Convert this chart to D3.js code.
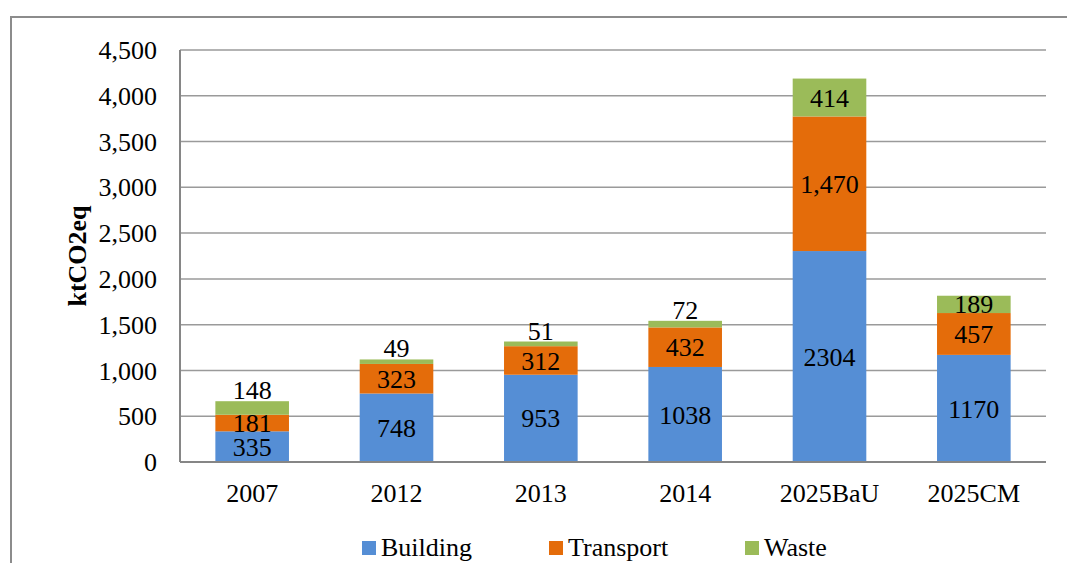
<!DOCTYPE html>
<html>
<head>
<meta charset="utf-8">
<script src="https://cdn.jsdelivr.net/npm/d3@7"></script>
<style>
  body { margin: 0; background: #fff; }
  text { font-family: "Liberation Serif", "Times New Roman", serif; fill: #000; }
</style>
</head>
<body>
<div id="chart"></div>
<script>
// data
const years = ["2007", "2012", "2013", "2014", "2025BaU", "2025CM"];
const building = [335, 748, 953, 1038, 2304, 1170];
const transport = [181, 323, 312, 432, 1470, 457];
const waste = [148, 49, 51, 72, 414, 189];
const seriesNames = ["Building", "Transport", "Waste"];
const colors = ["#558ed5", "#e46c0a", "#9bbb59"];
const yTicks = [0, 500, 1000, 1500, 2000, 2500, 3000, 3500, 4000, 4500];

const W = 1067, H = 563;
const margin = { top: 50, right: 21, bottom: 101, left: 180 };
const width = W - margin.left - margin.right;
const height = H - margin.top - margin.bottom;

const svg = d3.select("#chart").append("svg")
  .attr("width", W)
  .attr("height", H);

// outer frame (continues past right and bottom edge)
svg.append("path")
  .attr("d", "M11," + H + " V17 H" + W)
  .attr("fill", "none")
  .attr("stroke", "#8c8c8c")
  .attr("stroke-width", 2);

const g = svg.append("g")
  .attr("transform", `translate(${margin.left},${margin.top})`);

const xScale = d3.scaleBand()
  .domain(years)
  .range([0, width])
  .paddingInner(0.49)
  .paddingOuter(0.245);

const yScale = d3.scaleLinear()
  .domain([0, 4500])
  .range([height, 0]);

// gridlines
g.selectAll(".grid")
  .data(yTicks.slice(1))
  .enter().append("line")
  .attr("x1", 0)
  .attr("x2", width)
  .attr("y1", d => yScale(d))
  .attr("y2", d => yScale(d))
  .attr("stroke", "#9a9a9a")
  .attr("stroke-width", 1.5);

// y tick labels
g.selectAll(".ytick")
  .data(yTicks)
  .enter().append("text")
  .attr("x", -23)
  .attr("y", d => yScale(d))
  .attr("dy", "0.35em")
  .style("text-anchor", "end")
  .style("font-size", "26px")
  .text(d => d3.format(",")(d));

// stacked data
const rows = years.map((y, i) => ({ year: y, Building: building[i], Transport: transport[i], Waste: waste[i] }));
const stack = d3.stack().keys(seriesNames)(rows);

const layers = g.selectAll(".layer")
  .data(stack)
  .enter().append("g")
  .attr("fill", (d, i) => colors[i]);

layers.selectAll("rect")
  .data(d => d)
  .enter().append("rect")
  .attr("x", d => xScale(d.data.year))
  .attr("y", d => yScale(d[1]))
  .attr("width", xScale.bandwidth())
  .attr("height", d => yScale(d[0]) - yScale(d[1]));

// axes lines
g.append("line")
  .attr("x1", 0).attr("x2", 0)
  .attr("y1", 0).attr("y2", height)
  .attr("stroke", "#868686").attr("stroke-width", 2);
g.append("line")
  .attr("x1", 0).attr("x2", width)
  .attr("y1", height).attr("y2", height)
  .attr("stroke", "#868686").attr("stroke-width", 2);

// data labels
stack.forEach((layer, si) => {
  const fmt = si === 0 ? d3.format("d") : d3.format(",");
  layer.forEach(d => {
    const top = yScale(d[1]), bot = yScale(d[0]);
    const v = d[1] - d[0];
    const small = (bot - top) < 15;
    g.append("text")
      .attr("x", xScale(d.data.year) + xScale.bandwidth() / 2)
      .attr("y", small ? top - 2 : (top + bot) / 2)
      .attr("dy", small ? 0 : "0.35em")
      .style("text-anchor", "middle")
      .style("font-size", "26px")
      .text(fmt(v));
  });
});

// x labels
g.selectAll(".xlab")
  .data(years)
  .enter().append("text")
  .attr("x", d => xScale(d) + xScale.bandwidth() / 2)
  .attr("y", height + 40)
  .style("text-anchor", "middle")
  .style("font-size", "26px")
  .text(d => d);

// y title
svg.append("text")
  .attr("transform", "translate(86,256) rotate(-90)")
  .style("text-anchor", "middle")
  .style("font-size", "26px")
  .style("font-weight", "bold")
  .text("ktCO2eq");

// legend
const legendX = [362, 549, 745];
const legend = svg.selectAll(".legend")
  .data(seriesNames)
  .enter().append("g")
  .attr("transform", (d, i) => `translate(${legendX[i]},541)`);
legend.append("rect")
  .attr("width", 14).attr("height", 14)
  .attr("fill", (d, i) => colors[i]);
legend.append("text")
  .attr("x", 19)
  .attr("y", 15)
  .style("font-size", "26px")
  .text(d => d);
</script>
</body>
</html>
